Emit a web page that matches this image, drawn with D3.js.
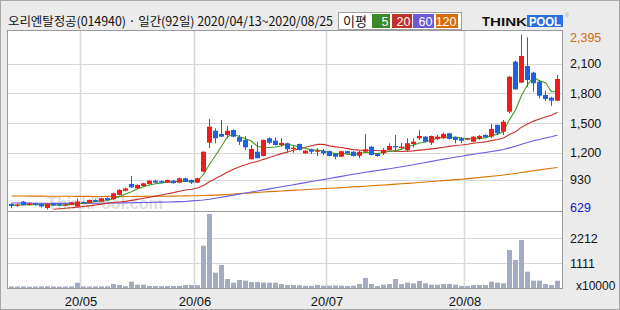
<!DOCTYPE html>
<html><head><meta charset="utf-8">
<script src="https://cdn.jsdelivr.net/npm/d3@7/dist/d3.min.js"></script>
<style>body{margin:0;background:#ebebeb}svg{display:block}</style>
</head><body><svg id="c" width="620" height="310"></svg>
<script>
const stockName = "오리엔탈정공";
const stockCode = "014940";
const dates = ["2020/04/13","2020/04/14","2020/04/16","2020/04/17","2020/04/20","2020/04/21","2020/04/22","2020/04/23","2020/04/24","2020/04/27","2020/04/28","2020/04/29",
"2020/05/04","2020/05/06","2020/05/07","2020/05/08","2020/05/11","2020/05/12","2020/05/13","2020/05/14","2020/05/15","2020/05/18","2020/05/19","2020/05/20","2020/05/21","2020/05/22","2020/05/25","2020/05/26","2020/05/27","2020/05/28","2020/05/29",
"2020/06/01","2020/06/02","2020/06/03","2020/06/04","2020/06/05","2020/06/08","2020/06/09","2020/06/10","2020/06/11","2020/06/12","2020/06/15","2020/06/16","2020/06/17","2020/06/18","2020/06/19","2020/06/22","2020/06/23","2020/06/24","2020/06/25","2020/06/26","2020/06/29","2020/06/30",
"2020/07/01","2020/07/02","2020/07/03","2020/07/06","2020/07/07","2020/07/08","2020/07/09","2020/07/10","2020/07/13","2020/07/14","2020/07/15","2020/07/16","2020/07/17","2020/07/20","2020/07/21","2020/07/22","2020/07/23","2020/07/24","2020/07/27","2020/07/28","2020/07/29","2020/07/30","2020/07/31",
"2020/08/03","2020/08/04","2020/08/05","2020/08/06","2020/08/07","2020/08/10","2020/08/11","2020/08/12","2020/08/13","2020/08/14","2020/08/18","2020/08/19","2020/08/20","2020/08/21","2020/08/24","2020/08/25"];

const open = [685,672,708,675,692,688,645,690,683,670,675,660,705,695,725,708,745,732,776,818,
887,843,866,887,920,915,900,920,900,944,927,900,1011,1303,1424,1391,1381,1431,1358,1331,
1136,1212,1169,1348,1323,1280,1297,1240,1290,1196,1237,1212,1223,1218,1189,1162,1218,1212,1172,1212,
1263,1189,1196,1230,1270,1250,1230,1290,1348,1364,1303,1340,1348,1398,1358,1348,1335,1313,1348,1381,
1364,1482,1414,1616,2121,1909,2077,2010,1919,1785,1757,1727];
const high = [692,690,715,700,698,695,692,697,690,688,706,740,710,730,732,748,752,800,835,850,
967,882,898,925,928,920,932,927,950,950,932,950,1215,1542,1448,1532,1472,1438,1381,1371,
1280,1313,1335,1358,1358,1348,1303,1280,1295,1228,1242,1247,1240,1225,1195,1222,1222,1218,1218,1391,
1268,1195,1247,1297,1381,1303,1348,1348,1431,1370,1375,1381,1404,1403,1364,1358,1352,1368,1381,1386,
1492,1489,1532,1975,2131,2395,2367,2020,1936,1828,1767,1986];
const low = [641,655,670,668,670,650,629,665,668,665,672,655,692,690,703,705,720,728,770,812,
848,838,860,882,895,892,896,890,895,905,885,895,1005,1250,1297,1360,1348,1358,1280,1230,
1136,1146,1165,1287,1275,1263,1202,1202,1225,1190,1189,1169,1179,1165,1136,1158,1192,1165,1146,1208,
1175,1160,1179,1223,1212,1237,1212,1257,1331,1308,1280,1331,1341,1336,1297,1297,1330,1308,1331,1353,
1348,1381,1381,1600,1835,1905,1868,1818,1751,1724,1674,1727];
const close = [665,680,675,692,675,660,688,670,672,680,702,710,698,725,708,742,725,793,826,842,
853,877,893,920,900,900,927,895,944,910,900,944,1212,1465,1348,1364,1424,1364,1313,1257,
1240,1146,1331,1303,1280,1300,1237,1252,1230,1223,1212,1225,1196,1169,1162,1218,1196,1169,1212,1237,
1179,1169,1230,1270,1257,1263,1297,1313,1371,1313,1371,1364,1391,1341,1331,1323,1345,1364,1371,1358,
1442,1398,1515,1969,1842,2178,1936,1903,1777,1744,1727,1946];
// volume, unit x10000
const volume = [70,65,70,60,65,70,75,65,60,65,70,232,70,65,70,70,75,175,131,80,
276,146,146,90,85,80,85,90,95,131,131,120,1854,3241,672,1007,394,232,350,321,
260,260,240,232,232,175,131,131,120,100,95,131,100,102,110,102,90,100,175,438,
175,88,146,175,394,175,234,204,307,204,146,146,175,175,146,95,88,131,131,131,
277,234,204,1664,1226,2102,715,321,321,175,131,321];

const ma5 = [670,672,675,678,677,676,678,677,673,674,682,687,692,703,709,717,720,739,759,786,
808,838,858,877,889,898,908,908,913,915,915,919,982,1086,1174,1267,1363,1393,1363,1344,
1320,1264,1257,1255,1260,1272,1290,1274,1260,1248,1231,1228,1217,1205,1193,1194,1188,1183,1191,1206,
1199,1193,1205,1217,1221,1238,1263,1280,1300,1311,1333,1346,1362,1356,1360,1350,1346,1341,1347,1352,
1376,1387,1417,1536,1633,1780,1888,1966,1927,1908,1817,1819];
const ma20 = [null,null,null,null,null,null,null,631,636,641,647,653,659,666,674,683,692,699,705,711,
721,731,742,753,764,776,788,799,813,825,834,846,872,909,941,972,1007,1035,1060,1081,
1100,1113,1135,1154,1173,1193,1209,1227,1241,1257,1272,1286,1286,1271,1261,1254,1243,1233,1228,1227,
1224,1225,1220,1218,1217,1215,1218,1221,1228,1233,1241,1248,1258,1266,1275,1280,1287,1297,1305,1311,
1324,1336,1350,1385,1414,1460,1492,1521,1542,1563,1581,1610];
const ma60 = [694,694,693,693,692,692,692,691,691,691,691,691,691,692,692,692,693,694,695,696,
697,698,699,700,702,703,705,706,708,710,716,720,725,732,742,753,764,774,785,795,
806,816,827,837,848,858,869,879,890,900,911,921,932,942,953,963,974,984,995,1005,
1014,1022,1031,1041,1050,1060,1071,1081,1093,1104,1115,1126,1137,1147,1158,1167,1178,1187,1196,1205,
1215,1223,1234,1251,1267,1288,1305,1322,1336,1350,1363,1380];
const ma120 = [765,765,765,764,764,764,763,763,762,762,762,761,761,761,760,760,760,760,760,760,
760,761,761,762,762,763,763,764,765,766,767,768,770,772,774,777,781,785,789,793,
797,801,805,809,812,815,819,822,826,829,833,836,840,843,846,850,853,857,860,864,
868,872,876,880,885,889,893,897,902,906,911,916,920,925,930,935,941,946,952,958,
964,970,977,985,993,1002,1011,1020,1029,1037,1045,1053];

const priceTicks = [629,930,1200,1500,1800,2100,2395];
const gridPrices = [930,1200,1500,1800,2100];
const volTicks = [1111,2212];
const maNames = ["5","20","60","120"];

const svg = d3.select("#c");
const W = 620, H = 310;
const L = 8, R = 562, T = 31, MID = 211, B = 288;

svg.append("rect").attr("x",0.5).attr("y",0.5).attr("width",W-1).attr("height",H-1)
  .attr("fill","#ebebeb").attr("stroke","#a8a8a8");

svg.append("rect").attr("x",L).attr("y",T).attr("width",R-L).attr("height",B-T).attr("fill","#fff");

const n = dates.length;
const x = d3.scaleBand().domain(d3.range(n)).range([8.5,560.5]).paddingInner(1/6).paddingOuter(1/12);
const xe = d3.scaleLinear().domain([0,n]).range([8.5,560.5]);
const cx = i => x(i) + x.bandwidth()/2;
const y = d3.scaleLinear().domain([629,2395]).range([209.5,34.5]);
const yv = d3.scaleLinear().domain([0,3330]).range([B,212]);

const monthStarts = d3.range(1,n).filter(i => dates[i].slice(5,7) !== dates[i-1].slice(5,7));

const grid = svg.append("g").attr("stroke","#d6d6d6").attr("stroke-width",1);
gridPrices.forEach(v => grid.append("line").attr("x1",L).attr("x2",R)
  .attr("y1",Math.round(y(v))+0.5).attr("y2",Math.round(y(v))+0.5));
volTicks.forEach(v => grid.append("line").attr("x1",L).attr("x2",R)
  .attr("y1",Math.round(yv(v))+0.5).attr("y2",Math.round(yv(v))+0.5));
monthStarts.forEach(i => grid.append("line").attr("x1",xe(i)).attr("x2",xe(i))
  .attr("y1",T).attr("y2",B).attr("stroke-width",1.6).attr("stroke","#d9d9d9"));

svg.append("text").attr("x",47).attr("y",209).attr("font-family","Liberation Sans, Arial, sans-serif")
  .attr("font-size",17).attr("font-weight","bold").attr("fill","#dedede")
  .attr("textLength",116).attr("lengthAdjust","spacingAndGlyphs").text("ThinkPool.com");

svg.append("clipPath").attr("id","pc").append("rect").attr("x",L).attr("y",T).attr("width",R-L).attr("height",MID-T);

const maSeries = [
  {data: ma120, color:"#dc7200"},
  {data: ma60, color:"#6a5ae0"},
  {data: ma20, color:"#c8322c"},
  {data: ma5, color:"#409a22"}
];
const line = d3.line().defined(d => d.v != null).x(d => cx(d.i)).y(d => y(d.v));
const gl = svg.append("g").attr("clip-path","url(#pc)");
maSeries.forEach(s => {
  gl.append("path").attr("d", line(s.data.map((v,i)=>({i,v}))))
    .attr("fill","none").attr("stroke",s.color).attr("stroke-width",1.1);
});

const UP = "#f01c1c", DN = "#1e62e0";
const gc = svg.append("g").attr("clip-path","url(#pc)");
d3.range(n).forEach(i => {
  const c = close[i] >= open[i] ? UP : DN;
  gc.append("line").attr("x1",cx(i)).attr("x2",cx(i)).attr("y1",y(high[i])).attr("y2",y(low[i]))
    .attr("stroke",c).attr("stroke-width",1);
  const top = y(Math.max(open[i],close[i])), bot = y(Math.min(open[i],close[i]));
  gc.append("rect").attr("x",x(i)).attr("width",x.bandwidth()).attr("y",top)
    .attr("height",Math.max(1.2,bot-top)).attr("fill",c);
});

svg.append("g").selectAll("rect").data(volume).join("rect")
  .attr("x",(d,i)=>x(i)).attr("width",x.bandwidth())
  .attr("y",d=>yv(d)).attr("height",d=>B-yv(d)).attr("fill","#a3abc2");

const fr = svg.append("g").attr("stroke","#9a9a9a").attr("fill","none");
fr.append("rect").attr("x",L-0.5).attr("y",T-0.5).attr("width",R-L+1).attr("height",B-T+1);
fr.append("line").attr("x1",L).attr("x2",R).attr("y1",MID+0.5).attr("y2",MID+0.5);

const ay = svg.append("g").attr("transform",`translate(${R+8},0)`)
  .call(d3.axisRight(y).tickValues(priceTicks).tickSize(0).tickPadding(0).tickFormat(d3.format(",")));
ay.select(".domain").remove();
ay.selectAll(".tick").attr("transform", d => `translate(0,${Math.max(37,Math.min(207,y(d)))+0.5})`);
ay.selectAll("text").attr("font-family","Liberation Sans, Arial, sans-serif").attr("font-size",12.5)
  .attr("fill", d => d===2395 ? "#d06a10" : d===629 ? "#1414c8" : "#111").attr("text-anchor","start");

const av = svg.append("g").attr("transform",`translate(${R+8},0)`)
  .call(d3.axisRight(yv).tickValues(volTicks).tickSize(0).tickPadding(0).tickFormat(d3.format("d")));
av.select(".domain").remove();
av.selectAll(".tick").attr("transform", d => `translate(0,${yv(d)+1})`);
av.selectAll("text").attr("font-family","Liberation Sans, Arial, sans-serif").attr("font-size",12.5).attr("fill","#111");
svg.append("text").attr("x",576).attr("y",290).attr("font-family","Liberation Sans, Arial, sans-serif")
  .attr("font-size",12).attr("fill","#111").text("x10000");

const xTickScale = d3.scaleLinear().domain([0,n]).range([8.5,560.5]);
const ax = svg.append("g").attr("transform",`translate(0,${B})`)
  .call(d3.axisBottom(xTickScale).tickValues(monthStarts).tickSize(0).tickPadding(9)
    .tickFormat(i => dates[i].slice(2,4) + "/" + dates[i].slice(5,7)));
ax.select(".domain").remove();
ax.selectAll("text").attr("font-family","Liberation Sans, Arial, sans-serif").attr("font-size",13).attr("fill","#111");

svg.append("text").attr("x",8).attr("y",26).attr("font-family","Noto Sans CJK KR, sans-serif")
  .attr("font-size",12.5).attr("fill","#111").attr("textLength",325)
  .text(`${stockName}(${stockCode}) · 일간(${n}일) ${dates[0]}~${dates[n-1]}`);

const lg = svg.append("g");
lg.append("rect").attr("x",338.5).attr("y",12.5).attr("width",123).attr("height",17).attr("fill","#fff").attr("stroke","#a0a0a0");
lg.append("text").attr("x",343).attr("y",25.5).attr("font-family","Noto Sans CJK KR, sans-serif").attr("font-size",13).attr("fill","#111").text("이평");
const boxes = [[372,18],[392,20],[413,21],[436,22]];
const legCols = ["#3a8a28","#c2302a","#6a5ad8","#d86c00"];
maNames.forEach((nm,k) => {
  lg.append("rect").attr("x",boxes[k][0]).attr("y",14).attr("width",boxes[k][1]).attr("height",14).attr("fill",legCols[k]);
  lg.append("text").attr("x",boxes[k][0]+boxes[k][1]-1.5).attr("y",25.5).attr("text-anchor","end")
    .attr("font-family","Liberation Sans, Arial, sans-serif").attr("font-size",12.5).attr("fill","#fff").text(nm);
});

const lo = svg.append("g").attr("font-family","Liberation Sans, Arial, sans-serif").attr("font-weight","bold");
lo.append("text").attr("x",482).attr("y",26).attr("font-size",13).attr("fill","#111").text("T");
lo.append("text").attr("x",490).attr("y",26).attr("font-size",10.5).attr("fill","#111")
  .attr("textLength",37).attr("lengthAdjust","spacingAndGlyphs").text("HINK");
lo.append("rect").attr("x",527).attr("y",15).attr("width",36).attr("height",12).attr("fill","#2b6ee0");
lo.append("text").attr("x",529).attr("y",26).attr("font-size",13).attr("fill","#fff")
  .attr("textLength",32).attr("lengthAdjust","spacingAndGlyphs").text("POOL");
lo.append("text").attr("x",565).attr("y",17).attr("font-size",5).attr("font-weight","normal").attr("fill","#999").text("®");
</script></body></html>
